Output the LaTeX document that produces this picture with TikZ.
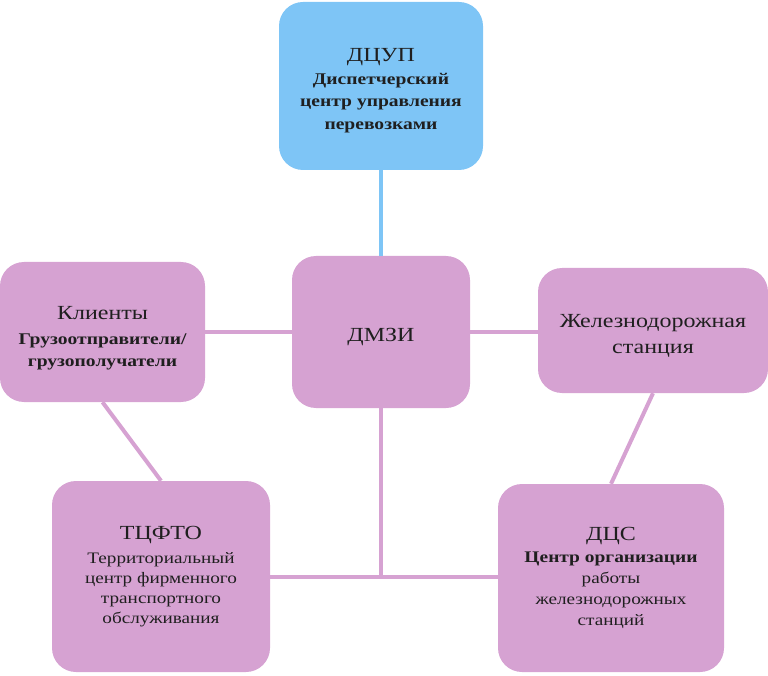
\documentclass[tikz,border=0pt]{standalone}
\usepackage{fontspec}
\setmainfont[FakeStretch=1.2]{Liberation Serif}
\usetikzlibrary{positioning}
\definecolor{boxpink}{RGB}{214,162,210}
\definecolor{boxblue}{RGB}{126,197,246}
\newcommand{\headfont}{\mdseries\fontsize{20}{24}\selectfont}
\newcommand{\lift}[1]{\rule{0pt}{#1}}
\tikzset{
  box/.style={draw=none, fill=boxpink, rounded corners=24pt, align=center,
    inner sep=0pt, text=black!88},
  bluebox/.style={box, fill=boxblue},
  link/.style={draw=boxpink, line width=4pt},
  bluelink/.style={draw=boxblue, line width=4pt}
}
\begin{document}
\begin{tikzpicture}[x=1pt,y=-1pt]
\useasboundingbox (0,0) rectangle (768,676);
% boxes
\node[bluebox, minimum width=204pt, minimum height=168pt,
  font=\bfseries\fontsize{16.3}{22.5}\selectfont] (dcup) at (381,86)
  {{\headfont\lift{22pt}ДЦУП}\\ Диспетчерский\\ центр управления\\ перевозками};
\node[box, minimum width=178pt, minimum height=152pt, font=\headfont] (dmzi) at (381,332)
  {\lift{24pt}ДМЗИ};
\node[box, minimum width=205pt, minimum height=140pt,
  font=\bfseries\fontsize{16.3}{22}\selectfont] (klient) at (102.5,332)
  {{\headfont\lift{25pt}Клиенты}\\[3pt] Грузоотправители/\\ грузополучатели};
\node[box, minimum width=230pt, minimum height=125pt,
  font=\mdseries\fontsize{20}{26}\selectfont] (zhd) at (653,330.5)
  {\lift{24pt}Железнодорожная\\ станция};
\node[box, minimum width=218pt, minimum height=191pt,
  font=\fontsize{16}{20}\selectfont] (tsfto) at (161,576.5)
  {{\headfont ТЦФТО}\\[4pt] Территориальный\\ центр фирменного\\ транспортного\\ обслуживания};
\node[box, minimum width=226pt, minimum height=188pt,
  font=\fontsize{16}{21}\selectfont] (dcs) at (611,578)
  {{\headfont ДЦС}\\[1pt] {\bfseries\fontsize{16.2}{21}\selectfont Центр организации}\\
   работы\\ железнодорожных\\ станций};

% connectors
\coordinate (joint) at (dmzi.south |- tsfto.east);
\draw[bluelink] (dcup.south) -- (dmzi.north);
\draw[link] (klient) -- (dmzi);
\draw[link] (dmzi.east) -- (dmzi.east -| zhd.west);
\draw[link] (klient.south) -- (tsfto.north);
\draw[link] (zhd.south) -- (dcs.north);
\draw[link] (dmzi.south) -- (joint);
\draw[link] (tsfto.east) -- (tsfto.east -| dcs.west);
\end{tikzpicture}
\end{document}
